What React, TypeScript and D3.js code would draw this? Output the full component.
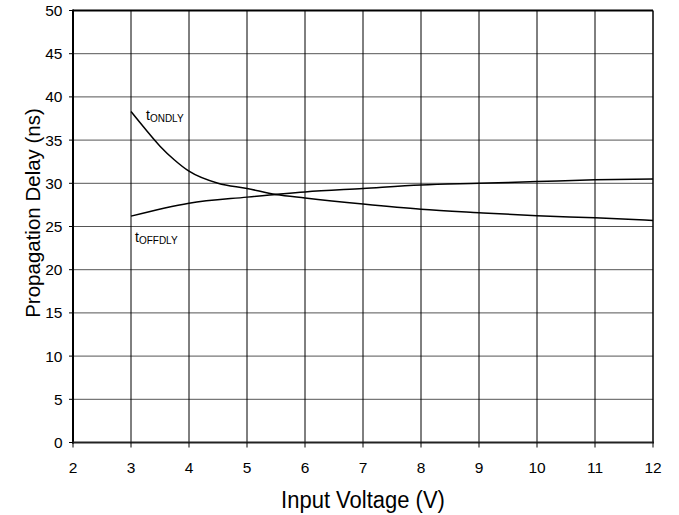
import React from "react";
import * as d3 from "d3";

const voltOn = [3, 3.25, 3.5, 3.75, 4, 4.5, 5, 5.5, 6, 7, 8, 9, 10, 11, 12];
const tOnDly = [38.3, 36.25, 34.3, 32.7, 31.4, 30.0, 29.4, 28.7, 28.3, 27.6, 27.0, 26.6, 26.25, 26.0, 25.7];
const voltOff = [3, 4, 5, 6, 7, 8, 9, 10, 11, 12];
const tOffDly = [26.2, 27.7, 28.4, 29.0, 29.4, 29.8, 30.0, 30.2, 30.4, 30.5];
const xTicks = [2, 3, 4, 5, 6, 7, 8, 9, 10, 11, 12];
const yTicks = [0, 5, 10, 15, 20, 25, 30, 35, 40, 45, 50];

export default function App() {
  const W = 679, H = 515;
  const L = 73, R = 653, T = 10.5, B = 442.5;
  const x = d3.scaleLinear().domain([2, 12]).range([L, R]);
  const y = d3.scaleLinear().domain([0, 50]).range([B, T]);
  const line = d3.line<[number, number]>().x(d => x(d[0])).y(d => y(d[1])).curve(d3.curveMonotoneX);
  const onPts = voltOn.map((v, i) => [v, tOnDly[i]] as [number, number]);
  const offPts = voltOff.map((v, i) => [v, tOffDly[i]] as [number, number]);
  const font = "Arial, 'Liberation Sans', Helvetica, sans-serif";
  return (
    <svg width={W} height={H} style={{ position: "absolute", left: 0, top: 0, background: "#fff" }} fontFamily={font}>
      <rect x={0} y={0} width={W} height={H} fill="#fff" />
      {yTicks.slice(1, -1).map(t => (
        <line key={"gy" + t} x1={L} x2={R} y1={y(t)} y2={y(t)} stroke="#555" strokeWidth={1} />
      ))}
      {xTicks.slice(1, -1).map(t => (
        <line key={"gx" + t} x1={x(t)} x2={x(t)} y1={T} y2={B} stroke="#000" strokeWidth={1} />
      ))}
      <line x1={R} x2={R} y1={T} y2={B} stroke="#000" strokeWidth={1.5} />
      <line x1={L} x2={R} y1={T} y2={T} stroke="#000" strokeWidth={2} />
      <line x1={L} x2={L} y1={T - 1} y2={B + 1} stroke="#000" strokeWidth={2} />
      <line x1={L - 1} x2={R + 1} y1={B} y2={B} stroke="#222" strokeWidth={2} />
      {yTicks.map(t => (
        <g key={"ty" + t}>
          <line x1={L - 4} x2={L} y1={y(t)} y2={y(t)} stroke="#000" strokeWidth={1} />
          <text x={62.5} y={y(t) + 5.5} fontSize={15.5} textAnchor="end" fill="#000">{t}</text>
        </g>
      ))}
      {xTicks.map(t => (
        <g key={"tx" + t}>
          <line x1={x(t)} x2={x(t)} y1={B} y2={B + 5} stroke="#000" strokeWidth={1} />
          <text x={x(t)} y={473} fontSize={15.5} textAnchor="middle" fill="#000">{t}</text>
        </g>
      ))}
      <path d={line(onPts) || ""} fill="none" stroke="#000" strokeWidth={1.5} />
      <path d={line(offPts) || ""} fill="none" stroke="#000" strokeWidth={1.5} />
      <text x={146} y={120} fontSize={14} fill="#000">t<tspan fontSize={10} dy={2}>ONDLY</tspan></text>
      <text x={135} y={242} fontSize={14} fill="#000">t<tspan fontSize={10} dy={2}>OFFDLY</tspan></text>
      <text transform="translate(363,508) scale(1,1.12)" fontSize={22} textAnchor="middle" fill="#000">Input Voltage (V)</text>
      <text transform="translate(39.5,213) rotate(-90)" fontSize={20.5} textAnchor="middle" fill="#000">Propagation Delay (ns)</text>
    </svg>
  );
}
